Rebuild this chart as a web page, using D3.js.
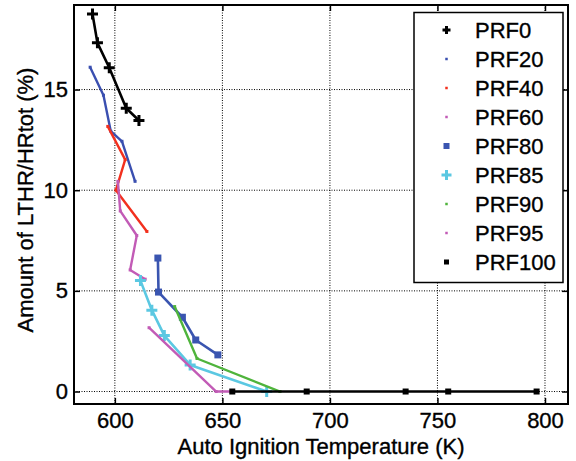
<!DOCTYPE html>
<html><head><meta charset="utf-8">
<script src="https://cdn.jsdelivr.net/npm/d3@7"></script>
<style>
html,body{margin:0;padding:0;background:#fff;}
svg{display:block;font-family:"Liberation Sans",Arial,Helvetica,sans-serif;}
</style></head>
<body><svg id="c" width="576" height="461"></svg>
<script>
// ---- data ----
const seriesNames = ["PRF0","PRF20","PRF40","PRF60","PRF80","PRF85","PRF90","PRF95","PRF100"];
const prf0T   = [589.6, 591.9, 597.4, 605.3, 611.2];
const prf0V   = [18.75, 17.32, 16.08, 14.07, 13.46];
const prf20T  = [588.5, 594.7, 598.1, 603.3, 609.4];
const prf20V  = [16.11, 14.72, 12.93, 12.43, 10.44];
const prf40T  = [596.7, 604.8, 600.5, 614.9];
const prf40V  = [13.17, 11.52, 10.0, 7.95];
const prf60T  = [601.4, 602.5, 610.2, 607.1, 614.1];
const prf60V  = [10.44, 8.97, 7.75, 6.04, 5.58];
const prf80T  = [620.0, 620.3, 631.4, 637.6, 647.9];
const prf80V  = [6.63, 4.94, 3.69, 2.56, 1.82];
const prf85T  = [611.9, 617.2, 623.0, 635.0, 670.6];
const prf85V  = [5.51, 4.04, 2.78, 1.32, 0];
const prf90T  = [627.8, 638.2, 676.8];
const prf90V  = [4.22, 1.64, 0];
const prf95T  = [615.9, 647.1, 654.4];
const prf95V  = [3.17, 0, 0];
const prf100T = [654.6, 689.2, 735.2, 755.0, 796.1];
const prf100V = [0, 0, 0, 0, 0];
const xTicks = [600, 650, 700, 750, 800];
const yTicks = [0, 5, 10, 15];
const xLabel = "Auto Ignition Temperature (K)";
const yLabel = "Amount of LTHR/HRtot (%)";

// ---- styles ----
const styles = {
  PRF0:  {color:"#000000", marker:"plus",  msize:11, lw:2.6},
  PRF20: {color:"#3a4fb0", marker:"dot",   msize:3,  lw:2.4},
  PRF40: {color:"#f2301e", marker:"dot",   msize:3,  lw:2.4},
  PRF60: {color:"#c25bb6", marker:"dot",   msize:3,  lw:2.4},
  PRF80: {color:"#3a55b0", marker:"square",msize:7,  lw:2.6},
  PRF85: {color:"#5bc8e2", marker:"plus",  msize:11, lw:2.6},
  PRF90: {color:"#4fb43c", marker:"dot",   msize:3,  lw:2.4},
  PRF95: {color:"#c25bb6", marker:"dot",   msize:3,  lw:2.4},
  PRF100:{color:"#000000", marker:"square",msize:6,  lw:2.6}
};
const seriesData = [
  [prf0T,prf0V],[prf20T,prf20V],[prf40T,prf40V],[prf60T,prf60V],[prf80T,prf80V],
  [prf85T,prf85V],[prf90T,prf90V],[prf95T,prf95V],[prf100T,prf100V]
].map((d,i)=>({name:seriesNames[i], pts:d[0].map((t,j)=>({t:t,v:d[1][j]}))}));

const L=74, R=568, T=5, B=404;
const x = d3.scaleLinear().domain([581, 810.7]).range([L,R]);
const y = d3.scaleLinear().domain([-0.62, 19.2]).range([B,T]);
const svg = d3.select("#c");
const FS = 22;
function txtStyle(sel){
  sel.style("font-size",FS+"px").style("font-family","'Liberation Sans',Arial,sans-serif")
     .attr("fill","#000").attr("stroke","#000").attr("stroke-width",0.35);
}

// grid
const grid = svg.append("g");
grid.selectAll(".gx").data(xTicks).enter().append("line")
  .attr("x1",d=>x(d)).attr("x2",d=>x(d)).attr("y1",T).attr("y2",B)
  .attr("stroke","#000").attr("stroke-width",1).attr("stroke-dasharray","1,1.5");
grid.selectAll(".gy").data(yTicks).enter().append("line")
  .attr("y1",d=>y(d)).attr("y2",d=>y(d)).attr("x1",L).attr("x2",R)
  .attr("stroke","#000").attr("stroke-width",1).attr("stroke-dasharray","1,1.5");

// axes (bottom/left with labels, inward ticks)
const xAxis = d3.axisBottom(x).tickValues(xTicks).tickSize(-6).tickPadding(8).tickFormat(d3.format("d"));
const yAxis = d3.axisLeft(y).tickValues(yTicks).tickSize(-6).tickPadding(6).tickFormat(d3.format("d"));
const gx = svg.append("g").attr("transform",`translate(0,${B})`).call(xAxis);
const gy = svg.append("g").attr("transform",`translate(${L},0)`).call(yAxis);
const gx2 = svg.append("g").attr("transform",`translate(0,${T})`).call(d3.axisTop(x).tickValues(xTicks).tickSize(-6).tickFormat(""));
const gy2 = svg.append("g").attr("transform",`translate(${R},0)`).call(d3.axisRight(y).tickValues(yTicks).tickSize(-6).tickFormat(""));
[gx,gy,gx2,gy2].forEach(g=>{
  g.select(".domain").remove();
  g.selectAll(".tick line").attr("stroke","#000").attr("stroke-width",1.5);
  g.selectAll(".tick text").call(txtStyle);
});

// series
const line = d3.line().x(d=>x(d.t)).y(d=>y(d.v));
function drawMarker(g, type, size, color, cx, cy){
  if(type==="plus"){
    const h=size/2;
    g.append("path").attr("d",`M${cx-h},${cy}H${cx+h}M${cx},${cy-h}V${cy+h}`)
      .attr("stroke",color).attr("stroke-width",3).attr("fill","none");
  } else {
    g.append("rect").attr("x",cx-size/2).attr("y",cy-size/2).attr("width",size).attr("height",size)
      .attr("fill",color);
  }
}
const plot = svg.append("g");
seriesData.forEach(s=>{
  const st = styles[s.name];
  plot.append("path").datum(s.pts).attr("d",line).attr("fill","none")
    .attr("stroke",st.color).attr("stroke-width",st.lw).attr("stroke-linejoin","round");
  s.pts.forEach(p=>drawMarker(plot, st.marker, st.msize, st.color, x(p.t), y(p.v)));
});

// frame
svg.append("rect").attr("x",L).attr("y",T).attr("width",R-L).attr("height",B-T)
  .attr("fill","none").attr("stroke","#000").attr("stroke-width",2);

// axis labels
svg.append("text").attr("x",(L+R)/2).attr("y",454).attr("text-anchor","middle")
  .call(txtStyle).text(xLabel);
svg.append("text").attr("transform",`translate(33,200) rotate(-90)`).attr("text-anchor","middle")
  .call(txtStyle).text(yLabel);

// legend
const lg = svg.append("g");
lg.append("rect").attr("x",414).attr("y",12.5).attr("width",149).attr("height",270)
  .attr("fill","#fff").attr("stroke","#000").attr("stroke-width",1.5);
seriesNames.forEach((n,i)=>{
  const cy = 30 + i*29;
  const st = styles[n];
  const ms = st.marker==="plus" ? (n==="PRF0"?8:10) : (st.marker==="square" ? (n==="PRF80"?6:5) : 2.5);
  drawMarker(lg, st.marker, ms, st.color, 446.5, cy);
  lg.append("text").attr("x",475).attr("y",cy).attr("dy","0.36em")
    .call(txtStyle).text(n);
});
</script></body></html>
